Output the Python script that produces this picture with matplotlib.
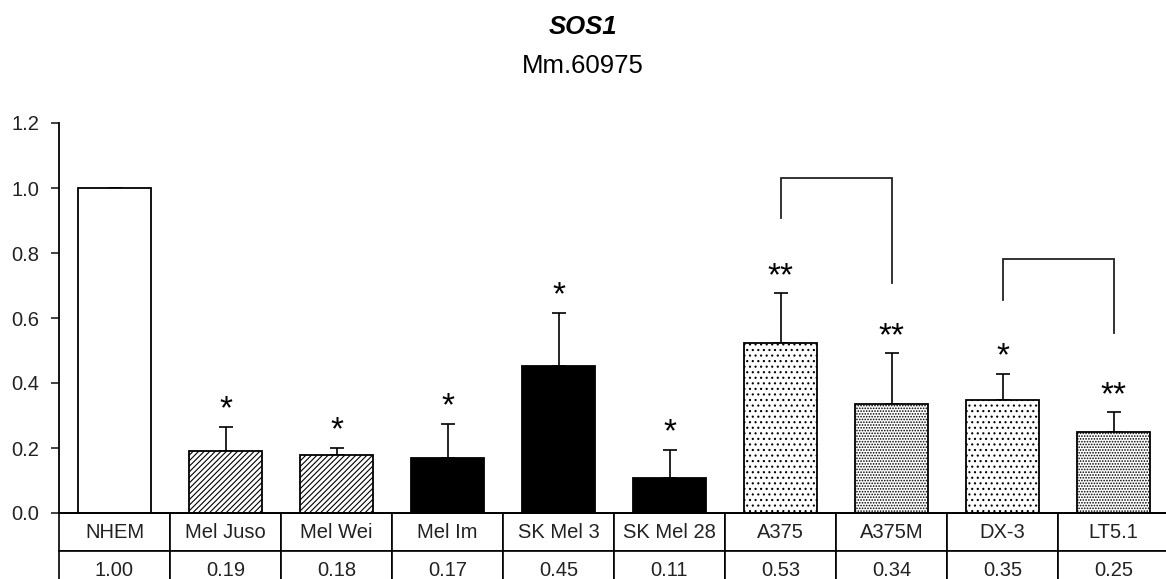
import matplotlib.pyplot as plt
from matplotlib.ticker import FormatStrFormatter
import numpy as np

plt.rcParams['font.family'] = ['Liberation Sans', 'DejaVu Sans']
plt.rcParams['hatch.linewidth'] = 0.8

# === DATA ===
cells = ['NHEM', 'Mel Juso', 'Mel Wei', 'Mel Im', 'SK Mel 3', 'SK Mel 28',
         'A375', 'A375M', 'DX-3', 'LT5.1']
means = [1.00, 0.19, 0.18, 0.17, 0.45, 0.11, 0.53, 0.34, 0.35, 0.25]
bar_heights = [1.00, 0.191, 0.178, 0.170, 0.453, 0.109, 0.524, 0.336, 0.347, 0.249]
err_up = [0.0, 0.074, 0.022, 0.105, 0.163, 0.086, 0.152, 0.155, 0.081, 0.061]
stars = ['', '*', '*', '*', '*', '*', '**', '**', '*', '**']
# bracket: (left idx, right idx, top, left bottom, right bottom)
brackets = [(6, 7, 1.032, 0.908, 0.709),
            (8, 9, 0.782, 0.655, 0.555)]

fills = ['white', 'white', 'white', 'black', 'black', 'black',
         'white', 'white', 'white', 'white']
hatches = [None, '//////', '//////', None, None, None,
           '...', '......', '...', '......']

# === FIGURE ===
W, H = 1166, 579
fig = plt.figure(figsize=(W / 100, H / 100), dpi=100)
ax = fig.add_axes([59 / W, (H - 513) / H, (1169 - 59) / W, 390 / H])

x = np.arange(len(cells))
ax.bar(x, bar_heights, width=0.65, color=fills, edgecolor='black',
       linewidth=1.3, hatch=hatches, zorder=2)
ax.errorbar(x, bar_heights, yerr=[np.zeros(len(x)), err_up], fmt='none',
            ecolor='black', elinewidth=1.2, capsize=5, capthick=1.2, zorder=1)

for i, s in enumerate(stars):
    if s:
        ax.annotate(s, (x[i], bar_heights[i] + err_up[i]), xytext=(0, 1),
                    textcoords='offset points', ha='center', va='bottom',
                    fontsize=24)

for l, r, top, lb, rb in brackets:
    ax.plot([l, l, r, r], [lb, top, top, rb], color='#222222', lw=1.3,
            solid_joinstyle='miter')

ax.set_xlim(-0.5, len(cells) - 0.5)
ax.set_ylim(0, 1.2)
ax.set_yticks(np.arange(0, 1.21, 0.2))
ax.yaxis.set_major_formatter(FormatStrFormatter('%.1f'))
ax.tick_params(axis='y', direction='out', length=6, width=1.2, pad=8,
               labelsize=14.5, colors='#222222')
ax.set_xticks([])
for sp in ['top', 'right']:
    ax.spines[sp].set_visible(False)
ax.spines['left'].set_linewidth(1.3)
ax.spines['bottom'].set_linewidth(1.3)

# table under the axis
row_h = 38 / 390
tbl = ax.table(cellText=[cells, ['%.2f' % v for v in means]],
               cellLoc='center', bbox=[0, -2 * row_h, 1, 2 * row_h])
tbl.auto_set_font_size(False)
tbl.set_fontsize(14.5)
for c in tbl.get_celld().values():
    c.set_linewidth(1.2)
    c.get_text().set_color('#222222')

fig.text(0.5, 1 - 27 / H, 'SOS1', ha='center', va='center', fontsize=18.5,
         fontweight='bold', fontstyle='italic')
fig.text(0.5, 1 - 66 / H, 'Mm.60975', ha='center', va='center', fontsize=18.5)

fig.savefig('out.png', dpi=100)
